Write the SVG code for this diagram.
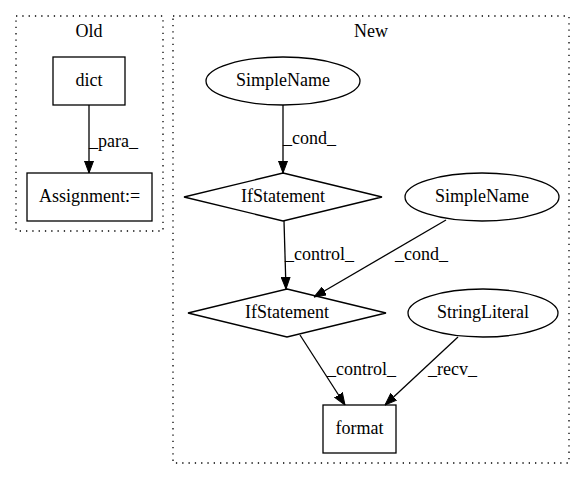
<svg xmlns="http://www.w3.org/2000/svg" width="585" height="480" viewBox="0 0 585 480">
<style>
text{font-family:"Liberation Serif","Times New Roman",serif;font-size:18px;fill:#000}
.n{fill:none;stroke:#000;stroke-width:1.3}
.c{fill:none;stroke:#000;stroke-width:1.3;stroke-dasharray:1.3,5}
.e{fill:none;stroke:#000;stroke-width:1.3;marker-end:url(#ah)}
.m{text-anchor:middle}
</style>
<defs>
<marker id="ah" markerWidth="12" markerHeight="10" refX="12" refY="5" orient="auto" markerUnits="userSpaceOnUse">
<path d="M0,0.5 L12,5 L0,9.5 Z" fill="#000" stroke="#000"/>
</marker>
</defs>
<rect width="585" height="480" fill="#fff"/>
<g id="cluster_old">
<rect class="c" x="16" y="16" width="147" height="215"/>
<text class="m" x="89" y="37">Old</text>
</g>
<g id="cluster_new">
<rect class="c" x="173" y="16" width="396" height="447"/>
<text class="m" x="371" y="37">New</text>
</g>
<g id="dict">
<rect class="n" x="53" y="57" width="72" height="48"/>
<text class="m" x="89" y="86">dict</text>
</g>
<g id="assignment">
<rect class="n" x="27" y="173" width="125" height="48"/>
<text class="m" x="89.5" y="202">Assignment:=</text>
</g>
<g id="simplename1">
<ellipse class="n" cx="283" cy="81" rx="77" ry="24"/>
<text class="m" x="283" y="86">SimpleName</text>
</g>
<g id="ifstatement1">
<polygon class="n" points="283,173 382,197 283,221 184,197"/>
<text class="m" x="283" y="202">IfStatement</text>
</g>
<g id="simplename2">
<ellipse class="n" cx="482" cy="197" rx="77" ry="24"/>
<text class="m" x="482" y="202">SimpleName</text>
</g>
<g id="ifstatement2">
<polygon class="n" points="287,289 386,313 287,337 188,313"/>
<text class="m" x="287" y="318">IfStatement</text>
</g>
<g id="stringliteral">
<ellipse class="n" cx="483" cy="313" rx="75" ry="24"/>
<text class="m" x="483" y="318">StringLiteral</text>
</g>
<g id="format">
<rect class="n" x="323" y="405" width="73" height="48"/>
<text class="m" x="359.5" y="434">format</text>
</g>
<g id="connectors">
<path class="e" d="M89,105 L89,173"/>
<text x="89" y="147">_para_</text>
<path class="e" d="M283,105 L283,173"/>
<text x="283" y="144">_cond_</text>
<path class="e" d="M284,221 L286,289"/>
<text x="285" y="260">_control_</text>
<path class="e" d="M446,220 L314,297"/>
<text x="395" y="260">_cond_</text>
<path class="e" d="M300,335 L345,405"/>
<text x="327" y="375">_control_</text>
<path class="e" d="M458,337 L385,405"/>
<text x="428" y="375">_recv_</text>
</g>
</svg>
